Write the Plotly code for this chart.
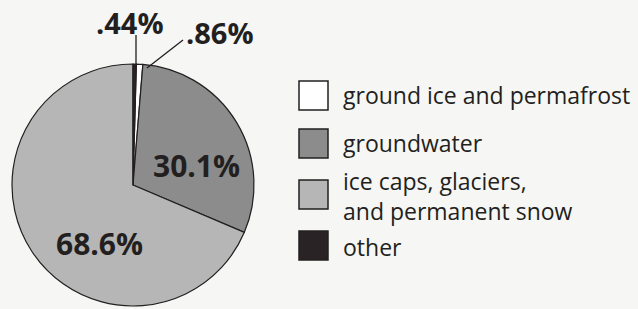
import plotly.graph_objects as go

# Data (clockwise from just right of 12 o'clock)
labels = ["ground ice and permafrost", "groundwater", "ice caps, glaciers,<br>and permanent snow", "other"]
values = [0.86, 30.1, 68.6, 0.44]
colors = ["#ffffff", "#8c8c8c", "#b6b6b6", "#2a2325"]

W, H = 638, 309
ink = "#231f20"

def fmt(v):
    s = f"{v:.2f}" if v < 1 else f"{v:.1f}"
    if s.startswith("0"):
        s = s[1:]
    return s + "%"

cx, cy, r = 133, 185, 121
rotation = values[3] / 100 * 360  # "other" slice sits at the top before ground ice

fig = go.Figure(go.Pie(
    labels=labels, values=values, sort=False, direction="clockwise",
    rotation=rotation,
    marker=dict(colors=colors, line=dict(color=ink, width=1.2)),
    textinfo="none", hoverinfo="label+percent", showlegend=False,
    domain=dict(x=[(cx - r) / W, (cx + r) / W], y=[(H - cy - r) / H, (H - cy + r) / H]),
))

def px(x): return x / W
def py(y): return 1 - y / H

annotations = []
# value labels
label_pos = {0: (220, 33), 1: (196, 165), 2: (99, 244), 3: (130, 22)}
label_size = {0: 29, 1: 30, 2: 30, 3: 29}
for i, v in enumerate(values):
    x, y = label_pos[i]
    annotations.append(dict(x=px(x), y=py(y), xref="paper", yref="paper", text=f"<b>{fmt(v)}</b>",
                            showarrow=False, font=dict(family="Open Sans", size=label_size[i], color=ink),
                            xanchor="center", yanchor="middle"))

shapes = [
    dict(type="line", xref="paper", yref="paper", x0=px(136), y0=py(35), x1=px(136), y1=py(67),
         line=dict(color=ink, width=1.3)),
    dict(type="line", xref="paper", yref="paper", x0=px(183), y0=py(40), x1=px(147), y1=py(68),
         line=dict(color=ink, width=1.3)),
]

# legend (manual, large swatches)
box_tops = [81, 129, 180, 231]
text_y = [95, 143, 196, 247]
for i, lab in enumerate(labels):
    y0 = box_tops[i]
    shapes.append(dict(type="rect", xref="paper", yref="paper", x0=px(299), x1=px(328), y0=py(y0), y1=py(y0 + 29),
                       fillcolor=colors[i], line=dict(color=ink, width=1.5)))
    annotations.append(dict(x=px(341), y=py(text_y[i]), xref="paper", yref="paper", text=lab, showarrow=False,
                            font=dict(family="Open Sans", size=23, color=ink), xanchor="left", yanchor="middle",
                            align="left"))

fig.update_layout(
    width=W, height=H, margin=dict(l=0, r=0, t=0, b=0),
    paper_bgcolor="#f6f6f4", plot_bgcolor="#f6f6f4",
    annotations=annotations, shapes=shapes,
)
fig.write_html("out.html", config={"displayModeBar": False},
               post_script="document.body.style.margin='0';document.body.style.background='#f6f6f4';")
